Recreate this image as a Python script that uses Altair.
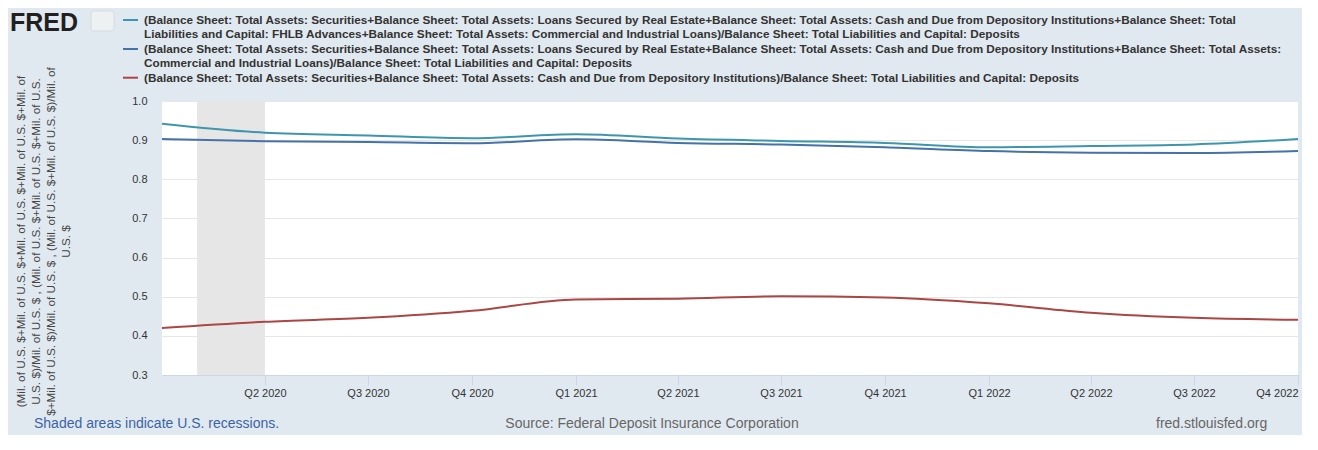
import altair as alt
import pandas as pd

# ---------------- data ----------------
quarters = ["2020-01-01", "2020-04-01", "2020-07-01", "2020-10-01",
            "2021-01-01", "2021-04-01", "2021-07-01", "2021-10-01",
            "2022-01-01", "2022-04-01", "2022-07-01", "2022-10-01"]
teal_vals = [0.942, 0.919, 0.912, 0.905, 0.915, 0.904, 0.898, 0.893, 0.882, 0.885, 0.889, 0.903]
blue_vals = [0.903, 0.897, 0.895, 0.892, 0.902, 0.893, 0.889, 0.882, 0.872, 0.868, 0.867, 0.872]
red_vals = [0.420, 0.436, 0.446, 0.464, 0.493, 0.495, 0.501, 0.498, 0.483, 0.459, 0.446, 0.441]

series_names = [
    "(Balance Sheet: Total Assets: Securities+Balance Sheet: Total Assets: Loans Secured by Real Estate+Balance Sheet: Total Assets: Cash and Due from Depository Institutions+Balance Sheet: Total Liabilities and Capital: FHLB Advances+Balance Sheet: Total Assets: Commercial and Industrial Loans)/Balance Sheet: Total Liabilities and Capital: Deposits",
    "(Balance Sheet: Total Assets: Securities+Balance Sheet: Total Assets: Loans Secured by Real Estate+Balance Sheet: Total Assets: Cash and Due from Depository Institutions+Balance Sheet: Total Assets: Commercial and Industrial Loans)/Balance Sheet: Total Liabilities and Capital: Deposits",
    "(Balance Sheet: Total Assets: Securities+Balance Sheet: Total Assets: Cash and Due from Depository Institutions)/Balance Sheet: Total Liabilities and Capital: Deposits",
]
series_colors = ["#3d96ae", "#4572a7", "#aa4643"]
legend_lines = [
    ["(Balance Sheet: Total Assets: Securities+Balance Sheet: Total Assets: Loans Secured by Real Estate+Balance Sheet: Total Assets: Cash and Due from Depository Institutions+Balance Sheet: Total",
     "Liabilities and Capital: FHLB Advances+Balance Sheet: Total Assets: Commercial and Industrial Loans)/Balance Sheet: Total Liabilities and Capital: Deposits"],
    ["(Balance Sheet: Total Assets: Securities+Balance Sheet: Total Assets: Loans Secured by Real Estate+Balance Sheet: Total Assets: Cash and Due from Depository Institutions+Balance Sheet: Total Assets:",
     "Commercial and Industrial Loans)/Balance Sheet: Total Liabilities and Capital: Deposits"],
    ["(Balance Sheet: Total Assets: Securities+Balance Sheet: Total Assets: Cash and Due from Depository Institutions)/Balance Sheet: Total Liabilities and Capital: Deposits"],
]
recession_start = ["2020-02-01"]
recession_end = ["2020-04-01"]
tick_dates = [(2020, 4), (2020, 7), (2020, 10), (2021, 1), (2021, 4), (2021, 7),
              (2021, 10), (2022, 1), (2022, 4), (2022, 7), (2022, 10)]
y_ticks = [0.3, 0.4, 0.5, 0.6, 0.7, 0.8, 0.9, 1.0]
y_title_lines = [
    "(Mil. of U.S. $+Mil. of U.S. $+Mil. of U.S. $+Mil. of U.S. $+Mil. of",
    "U.S. $)/Mil. of U.S. $ , (Mil. of U.S. $+Mil. of U.S. $+Mil. of U.S.",
    "$+Mil. of U.S. $)/Mil. of U.S. $ , (Mil. of U.S. $+Mil. of U.S. $)/Mil. of",
    "U.S. $",
]
footer_left = "Shaded areas indicate U.S. recessions."
footer_mid = "Source: Federal Deposit Insurance Corporation"
footer_right = "fred.stlouisfed.org"
logo_text = "FRED"

# ---------------- tables ----------------
rows = []
for name, vals in zip(series_names, [teal_vals, blue_vals, red_vals]):
    for q, v in zip(quarters, vals):
        rows.append({"date": q, "value": v, "series": name})
df = pd.DataFrame(rows)
rec_df = pd.DataFrame({"start": recession_start, "end": recession_end})

W, H = 1136, 274
FONT = "Liberation Sans"

x_scale = alt.Scale(type="utc",
                    domain=[alt.DateTime(year=2020, month=1, date=1, utc=True),
                            alt.DateTime(year=2022, month=10, date=1, utc=True)])
x_axis = alt.Axis(
    values=[alt.DateTime(year=y, month=m, date=1, utc=True) for y, m in tick_dates],
    labelExpr="'Q' + utcquarter(datum.value) + ' ' + utcyear(datum.value)",
    grid=False, domainColor="#ccd6eb", tickColor="#ccd6eb", tickSize=10,
    labelPadding=2, labelFontSize=11, labelColor="#333333", labelFlush=True,
    labelFont=FONT,
)
y_scale = alt.Scale(domain=[0.3, 1.0], nice=False, zero=False)
y_axis = alt.Axis(
    values=y_ticks, format=".1f", domain=False, ticks=False, tickSize=0,
    labelPadding=15, labelFontSize=11, labelColor="#333333", labelFont=FONT,
    gridColor="#e6e6e6", gridWidth=1,
    title=y_title_lines, titleFontSize=11.75, titleFontWeight="normal",
    titleColor="#444444", titleFont=FONT, titleAngle=-90, titleAlign="center",
    titleBaseline="top", titleX=-147, titleY=140, titleLineHeight=15,
)

rec = alt.Chart(rec_df).mark_rect(color="#e6e6e6").encode(
    x=alt.X("start:T", scale=x_scale, axis=x_axis, title=None),
    x2="end:T",
)

lines = alt.Chart(df).mark_line(interpolate="monotone", strokeWidth=2).encode(
    x=alt.X("date:T", scale=x_scale, axis=x_axis, title=None),
    y=alt.Y("value:Q", scale=y_scale, axis=y_axis),
    color=alt.Color("series:N", scale=alt.Scale(domain=series_names, range=series_colors),
                    legend=None),
)

layers = [rec, lines]

# legend (manual, wrapped)
leg_y = [[-81, -66.6], [-52, -37.6], [-23.3]]
for i, (lns, ys) in enumerate(zip(legend_lines, leg_y)):
    layers.append(
        alt.Chart(pd.DataFrame({"s": [series_names[i]]})).mark_rule(
            strokeWidth=2, color=series_colors[i]).encode(
            x=alt.value(-39), x2=alt.value(-24), y=alt.value(ys[0]))
    )
    for t, yy in zip(lns, ys):
        layers.append(
            alt.Chart(pd.DataFrame({"t": [t]})).mark_text(
                align="left", baseline="middle", fontSize=11.75, fontWeight="bold",
                color="#333333", font=FONT).encode(
                x=alt.value(-18), y=alt.value(yy), text="t:N")
        )

# logo
layers.append(
    alt.Chart(pd.DataFrame({"t": [logo_text]})).mark_text(
        align="left", baseline="alphabetic", fontSize=25, fontWeight=900,
        color="#231f20", font=FONT).encode(x=alt.value(-152), y=alt.value(-70), text="t:N")
)
layers.append(
    alt.Chart(pd.DataFrame({"t": [logo_text]})).mark_rect(
        fill="#eef1f2", stroke="#d5dbe0", cornerRadius=3).encode(
        x=alt.value(-71), x2=alt.value(-48), y=alt.value(-90), y2=alt.value(-70))
)

# footers
layers.append(
    alt.Chart(pd.DataFrame({"t": [footer_left]})).mark_text(
        align="left", baseline="middle", fontSize=14, color="#3a64a6", font=FONT).encode(
        x=alt.value(-128), y=alt.value(323), text="t:N")
)
layers.append(
    alt.Chart(pd.DataFrame({"t": [footer_mid]})).mark_text(
        align="center", baseline="middle", fontSize=14, color="#666666", font=FONT).encode(
        x=alt.value(490), y=alt.value(323), text="t:N")
)
layers.append(
    alt.Chart(pd.DataFrame({"t": [footer_right]})).mark_text(
        align="left", baseline="middle", fontSize=14, color="#666666", font=FONT).encode(
        x=alt.value(994), y=alt.value(323), text="t:N")
)

chart = alt.layer(*layers).properties(
    width=W, height=H,
    padding={"left": 154, "top": 93, "right": 4, "bottom": 60},
    autosize=alt.AutoSizeParams(type="none"),
    background="#e1e9f0",
).configure(font=FONT).configure_view(fill="#ffffff", stroke=None)

chart.save("out.html", embed_options={"renderer": "svg", "actions": False})
